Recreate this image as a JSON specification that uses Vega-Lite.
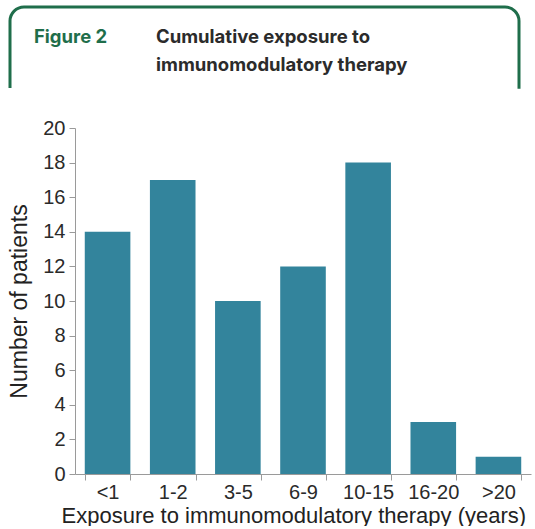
{
  "$schema": "https://vega.github.io/schema/vega-lite/v6.json",
  "padding": {"left": 8, "top": 5, "right": 0, "bottom": 0},
  "spacing": 9,
  "background": "white",
  "config": {"view": {"stroke": null}},
  "vconcat": [
    {
      "width": 509,
      "height": 100,
      "view": {
        "stroke": "#1f6e4b",
        "strokeWidth": 3,
        "cornerRadius": 14,
        "strokeDash": [570.5, 534, 89.5, 2000]
      },
      "data": {
        "values": [
          {"col": "fig", "line": 1, "text": "Figure 2"},
          {"col": "title", "line": 1, "text": "Cumulative exposure to"},
          {"col": "title", "line": 2, "text": "immunomodulatory therapy"}
        ]
      },
      "mark": {"type": "text", "align": "left", "baseline": "alphabetic", "font": "Inter", "fontWeight": "bold", "fontSize": 18.5},
      "encoding": {
        "x": {"field": "col", "type": "nominal", "scale": {"type": "point", "domain": ["fig", "title"], "range": [24, 146], "padding": 0}, "axis": null},
        "y": {"field": "line", "type": "ordinal", "scale": {"type": "point", "domain": [1, 2], "range": [36, 64], "padding": 0}, "axis": null},
        "text": {"field": "text"},
        "color": {"field": "col", "type": "nominal", "scale": {"domain": ["fig", "title"], "range": ["#1f6e4b", "#2b2b2b"]}, "legend": null}
      }
    },
    {
      "width": 523,
      "height": 346,
      "data": {
        "values": [
          {"exposure": "<1", "patients": 14},
          {"exposure": "1-2", "patients": 17},
          {"exposure": "3-5", "patients": 10},
          {"exposure": "6-9", "patients": 12},
          {"exposure": "10-15", "patients": 18},
          {"exposure": "16-20", "patients": 3},
          {"exposure": ">20", "patients": 1}
        ]
      },
      "mark": {"type": "bar", "color": "#33849c"},
      "encoding": {
        "x": {
          "field": "exposure", "type": "nominal", "sort": null,
          "scale": {"paddingInner": 0.3, "paddingOuter": 0.15, "range": [65, 521]},
          "axis": {
            "title": "Exposure to immunomodulatory therapy (years)",
            "labelAngle": 0, "tickBand": "extent",
            "domainColor": "#9a9a9a", "tickColor": "#9a9a9a", "tickSize": 6,
            "labelFont": "Liberation Sans", "labelFontSize": 20, "labelColor": "#2a2a2a", "labelPadding": 2,
            "titleFont": "Liberation Sans", "titleFontSize": 22, "titleFontWeight": "normal", "titleColor": "#222222", "titlePadding": 3,
            "titleAlign": "left", "titleAnchor": "start", "titleX": 51
          }
        },
        "y": {
          "field": "patients", "type": "quantitative",
          "scale": {"domain": [0, 20]},
          "axis": {
            "title": "Number of patients",
            "offset": -65,
            "values": [0, 2, 4, 6, 8, 10, 12, 14, 16, 18, 20],
            "grid": false,
            "domainColor": "#9a9a9a", "tickColor": "#9a9a9a", "tickSize": 6,
            "labelFont": "Liberation Sans", "labelFontSize": 20, "labelColor": "#2a2a2a", "labelPadding": 4,
            "titleFont": "Liberation Sans", "titleFontSize": 23, "titleFontWeight": "normal", "titleColor": "#222222", "titlePadding": 11
          }
        }
      }
    }
  ]
}
